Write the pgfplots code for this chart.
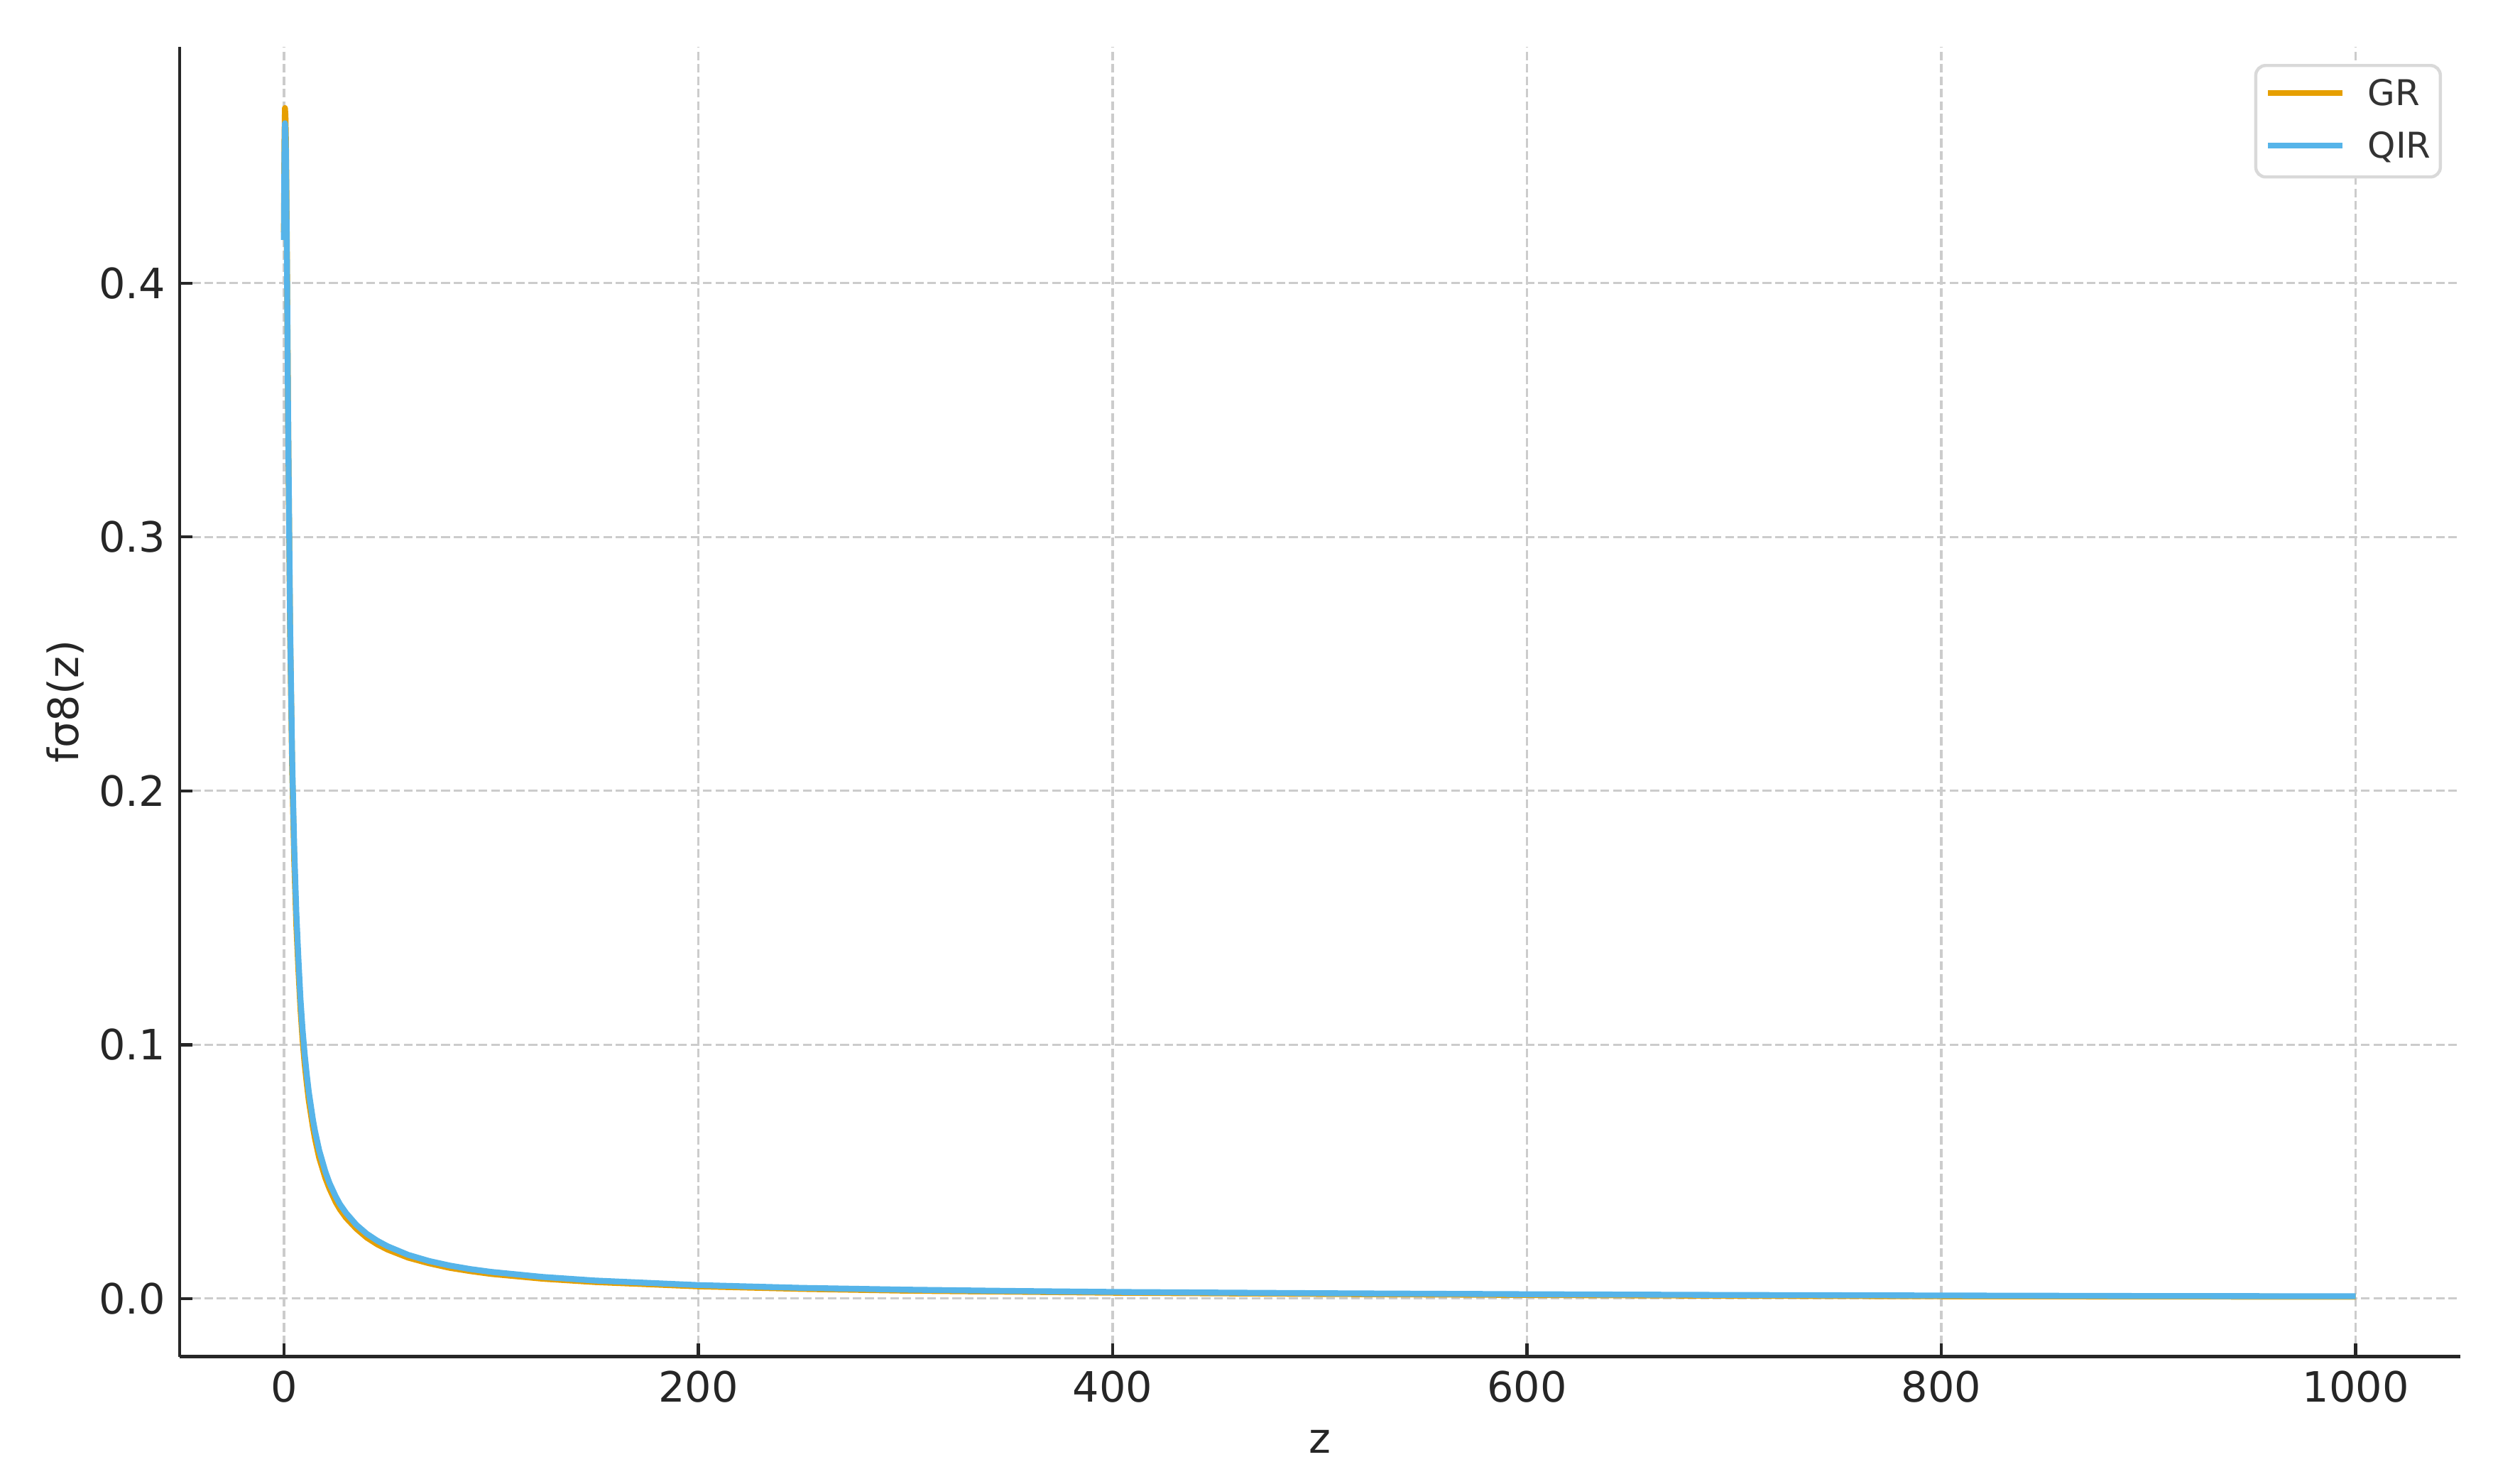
\documentclass[border=0pt]{standalone}
\usepackage{fontspec}
\setmainfont{DejaVu Sans}
\usepackage{pgfplots}
\pgfplotsset{compat=1.18}

\definecolor{grc}{HTML}{E69F00}
\definecolor{qirc}{HTML}{56B4E9}
\definecolor{gridc}{HTML}{CCCCCC}
\definecolor{txt}{HTML}{262626}

% z, f sigma8
\pgfplotstableread{
z      gr      qir
0      0.420   0.417
0.25   0.455   0.450
0.5    0.469   0.463
0.75   0.466   0.460
1      0.455   0.451
1.5    0.408   0.405
2      0.350   0.350
3      0.262   0.265
4      0.208   0.212
5      0.172   0.177
6      0.147   0.152
7      0.1295  0.134
8      0.114   0.118
9      0.102   0.106
10     0.0925  0.0965
11     0.085   0.0885
12     0.0780  0.0815
14     0.0675  0.0705
15     0.0630  0.0660
17     0.0555  0.0585
20     0.0475  0.0500
22     0.0433  0.0455
25     0.0380  0.0402
27     0.0352  0.0372
30     0.0318  0.0337
35     0.0275  0.0290
40     0.0240  0.0255
45     0.0214  0.0228
50     0.0193  0.0206
60     0.0161  0.0172
70     0.0139  0.0148
80     0.0121  0.0130
90     0.0108  0.0116
100    0.0097  0.0105
125    0.0078  0.0085
150    0.0065  0.0071
200    0.0048  0.0053
250    0.0038  0.0042
300    0.0031  0.0035
350    0.0027  0.0030
400    0.0023  0.0026
500    0.0018  0.0021
600    0.0014  0.0017
700    0.0011  0.0014
800    0.0009  0.0012
900    0.0008  0.0010
1000   0.0007  0.0009
}\fsdata

\begin{document}
\begin{tikzpicture}
\path[use as bounding box] (0,0) rectangle (631.95pt,376.0pt);
\begin{axis}[
    at={(45.5pt,32.1pt)}, anchor=south west,
    width=578.1pt, height=332.1pt, scale only axis,
    xmin=-50.4, xmax=1050.4,
    ymin=-0.0229, ymax=0.4932,
    axis lines=left,
    axis line style={-, line width=0.8pt, txt},
    tick align=inside,
    major tick length=3.3pt,
    tick style={line width=0.8pt, txt},
    xtick={0,200,400,600,800,1000},
    ytick={0,0.1,0.2,0.3,0.4},
    scaled ticks=false,
    ticklabel style={font=\fontsize{10.6}{12}\selectfont, text=txt,
        /pgf/number format/assume math mode=true,
        /pgf/number format/1000 sep={}},
    yticklabel style={/pgf/number format/fixed,
        /pgf/number format/fixed zerofill,
        /pgf/number format/precision=1},
    grid=major,
    major grid style={gridc, line width=0.6pt, dash pattern=on 2.2pt off 0.96pt},
    xlabel={z},
    ylabel={fσ8(z)},
    label style={font=\fontsize{10.6}{12}\selectfont, text=txt},
    xlabel style={at={(axis description cs:0.5,0)}, anchor=center, yshift=-21.6pt},
    ylabel style={at={(axis description cs:0,0.5)}, anchor=center, yshift=28.9pt},
    legend cell align=left,
    legend image code/.code={\path[draw=none] (0pt,-2.8pt) rectangle (18.9pt,3.76pt);
        \draw[#1] (0pt,0.48pt) -- (18.9pt,0.48pt);},
    legend style={at={(rel axis cs:1,1)}, anchor=north east,
        xshift=-4.6pt, yshift=-4.4pt,
        draw=black!15, line width=0.8pt, rounded corners=2.5pt, fill=white,
        font=\fontsize{9}{10}\selectfont, text=black!80,
        inner xsep=2.4pt, inner ysep=3.4pt,
        nodes={inner sep=0pt, text depth=1.4pt},
        row sep=5.3pt,
        /tikz/every odd column/.append style={column sep=5.6pt}},
]
\addplot[grc, line width=1.5pt, line join=round] table[x=z, y=gr] {\fsdata};
\addlegendentry{GR}
\addplot[qirc, line width=1.5pt, line join=round] table[x=z, y=qir] {\fsdata};
\addlegendentry{QIR}
\end{axis}
\end{tikzpicture}
\end{document}
